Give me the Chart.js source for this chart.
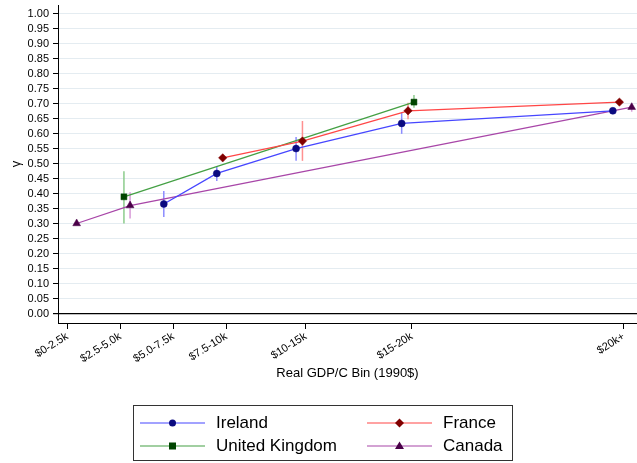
<!DOCTYPE html>
<html>
<head>
<meta charset="utf-8">
<script src="https://cdn.jsdelivr.net/npm/chart.js@4.4.1/dist/chart.umd.min.js"></script>
<style>
  html, body { margin: 0; padding: 0; background: #fff; }
  #wrap { position: relative; width: 637px; height: 463px; }
  #legend { position: absolute; left: 133px; top: 405px; width: 380px; height: 56px;
    border: 1px solid #333; box-sizing: border-box; font-family: 'Liberation Sans', Arial, sans-serif; font-size: 17px; color: #000; }
  .item { position: absolute; height: 20px; }
  .item svg { position: absolute; left: 0; top: 0; }
  .item span { position: absolute; top: 0; line-height: 20px; white-space: nowrap; }
</style>
</head>
<body>
<div id="wrap">
  <canvas id="c" width="637" height="463"></canvas>
  <div id="legend"></div>
</div>
<script>
// ---- Data ----
const binPositions = [1.25, 3.75, 6.25, 8.75, 12.5, 17.5, 27.5];
const binLabels = ['$0-2.5k', '$2.5-5.0k', '$5.0-7.5k', '$7.5-10k', '$10-15k', '$15-20k', '$20k+'];
const yTickValues = [0, 0.05, 0.10, 0.15, 0.20, 0.25, 0.30, 0.35, 0.40, 0.45, 0.50, 0.55, 0.60, 0.65, 0.70, 0.75, 0.80, 0.85, 0.90, 0.95, 1.00];

const countries = ['Ireland', 'France', 'United Kingdom', 'Canada'];

const irelandX  = [5.80, 8.30, 12.04, 17.02, 26.98];
const irelandY  = [0.366, 0.468, 0.551, 0.635, 0.677];
const irelandLo = [0.323, 0.443, 0.510, 0.600, 0.670];
const irelandHi = [0.409, 0.490, 0.590, 0.672, 0.684];

const franceX  = [8.58, 12.34, 17.32, 27.29];
const franceY  = [0.520, 0.576, 0.677, 0.706];
const franceLo = [0.510, 0.510, 0.649, 0.698];
const franceHi = [0.532, 0.643, 0.704, 0.714];

const ukX  = [3.92, 17.60];
const ukY  = [0.390, 0.706];
const ukLo = [0.301, 0.687];
const ukHi = [0.475, 0.730];

const canadaX  = [1.69, 4.21, 27.87];
const canadaY  = [0.301, 0.361, 0.689];
const canadaLo = [0.297, 0.318, 0.674];
const canadaHi = [0.305, 0.405, 0.702];

// ---- Styles ----
const styles = {
  'Ireland':        { line: '#4646ff', mark: '#0a0a80', err: '#8c8cff', shape: 'circle',   r: 3.5 },
  'France':         { line: '#ff4646', mark: '#800000', err: '#ff9090', shape: 'rectRot',  r: 4.2 },
  'United Kingdom': { line: '#44a044', mark: '#004400', err: '#8ccc8c', shape: 'rect',     r: 4.2 },
  'Canada':         { line: '#a846a8', mark: '#4a0048', err: '#d89ad8', shape: 'triangle', r: 4.5 }
};

function pts(xs, ys) { return xs.map((x, i) => ({ x: x, y: ys[i] })); }
const seriesData = {
  'Ireland':        { x: irelandX, y: irelandY, lo: irelandLo, hi: irelandHi },
  'France':         { x: franceX, y: franceY, lo: franceLo, hi: franceHi },
  'United Kingdom': { x: ukX, y: ukY, lo: ukLo, hi: ukHi },
  'Canada':         { x: canadaX, y: canadaY, lo: canadaLo, hi: canadaHi }
};

Chart.defaults.font.family = "'Liberation Sans', Arial, sans-serif";
Chart.defaults.color = '#000';

const datasets = countries.map(name => {
  const s = styles[name], d = seriesData[name];
  return {
    label: name,
    data: pts(d.x, d.y),
    lo: d.lo, hi: d.hi, errColor: s.err,
    borderColor: s.line, borderWidth: 1.3,
    backgroundColor: s.mark,
    pointBackgroundColor: s.mark, pointBorderColor: s.mark, pointBorderWidth: 0.5,
    pointStyle: s.shape, pointRadius: s.r, pointHoverRadius: s.r,
    tension: 0, fill: false, showLine: true, clip: false
  };
});

const errorBars = {
  id: 'errorBars',
  beforeDatasetsDraw(chart) {
    const ctx = chart.ctx, xs = chart.scales.x, ys = chart.scales.y;
    ctx.save();
    ctx.lineWidth = 1.5;
    chart.data.datasets.forEach(ds => {
      ctx.strokeStyle = ds.errColor;
      ds.data.forEach((p, i) => {
        const px = xs.getPixelForValue(p.x);
        ctx.beginPath();
        ctx.moveTo(px, ys.getPixelForValue(ds.lo[i]));
        ctx.lineTo(px, ys.getPixelForValue(ds.hi[i]));
        ctx.stroke();
      });
    });
    ctx.restore();
  }
};

new Chart(document.getElementById('c'), {
  type: 'line',
  data: { datasets: datasets },
  plugins: [errorBars],
  options: {
    responsive: false,
    animation: false,
    layout: { autoPadding: false, padding: { top: 5, right: 0, bottom: 78, left: 0 } },
    plugins: { legend: { display: false }, tooltip: { enabled: false } },
    scales: {
      x: {
        type: 'linear', min: 0.81, max: 28.12,
        afterBuildTicks: sc => { sc.ticks = binPositions.map(v => ({ value: v })); },
        afterFit: sc => { sc.height = 62; sc.paddingLeft = 0; sc.paddingRight = 0; },
        ticks: {
          autoSkip: false, minRotation: 32, maxRotation: 32, padding: 1,
          font: { size: 11 }, color: '#000',
          callback: (v) => { const i = binPositions.indexOf(v); return i >= 0 ? binLabels[i] : ''; }
        },
        grid: { drawOnChartArea: false, drawTicks: true, tickLength: 6, tickColor: '#000', tickWidth: 1 },
        border: { color: '#000', width: 1 },
        title: { display: true, text: 'Real GDP/C Bin (1990$)', font: { size: 13 }, color: '#000', padding: { top: 0, bottom: 4 } }
      },
      y: {
        type: 'linear', min: -0.031, max: 1.030,
        afterBuildTicks: sc => { sc.ticks = yTickValues.map(v => ({ value: v })); },
        afterFit: sc => { sc.width = 58; sc.paddingTop = 0; sc.paddingBottom = 0; },
        ticks: { autoSkip: false, font: { size: 11 }, color: '#000', padding: 4, callback: v => v.toFixed(2) },
        grid: {
          color: c => (c.tick && c.tick.value === 0) ? '#000' : '#e4ecf1',
          lineWidth: c => (c.tick && c.tick.value === 0) ? 1.2 : 1,
          tickLength: 5, tickColor: '#000'
        },
        border: { color: '#000', width: 1 },
        title: { display: true, text: 'γ', font: { size: 13 }, color: '#000', padding: { top: 9, bottom: 0 } }
      }
    }
  }
});

// ---- HTML legend ----
const legendLayout = [
  { name: 'Ireland', left: 6, top: 7 },
  { name: 'France', left: 233, top: 7 },
  { name: 'United Kingdom', left: 6, top: 30 },
  { name: 'Canada', left: 233, top: 30 }
];
function markerSvg(shape, c) {
  const cx = 32.5, cy = 10;
  if (shape === 'circle') return `<circle cx="${cx}" cy="${cy}" r="3.5" fill="${c}"/>`;
  if (shape === 'rect') return `<rect x="${cx-3.5}" y="${cy-3.5}" width="7" height="7" fill="${c}"/>`;
  if (shape === 'rectRot') return `<polygon points="${cx},${cy-4.5} ${cx+4.5},${cy} ${cx},${cy+4.5} ${cx-4.5},${cy}" fill="${c}"/>`;
  return `<polygon points="${cx},${cy-4.5} ${cx+4.5},${cy+3} ${cx-4.5},${cy+3}" fill="${c}"/>`;
}
const leg = document.getElementById('legend');
legendLayout.forEach(it => {
  const s = styles[it.name];
  const div = document.createElement('div');
  div.className = 'item';
  div.style.left = it.left + 'px';
  div.style.top = it.top + 'px';
  div.innerHTML = `<svg width="66" height="20"><line x1="0" y1="10" x2="65" y2="10" stroke="${s.line}" stroke-width="1.2"/>${markerSvg(s.shape, s.mark)}</svg><span style="left:76px">${it.name}</span>`;
  leg.appendChild(div);
});
</script>
</body>
</html>
